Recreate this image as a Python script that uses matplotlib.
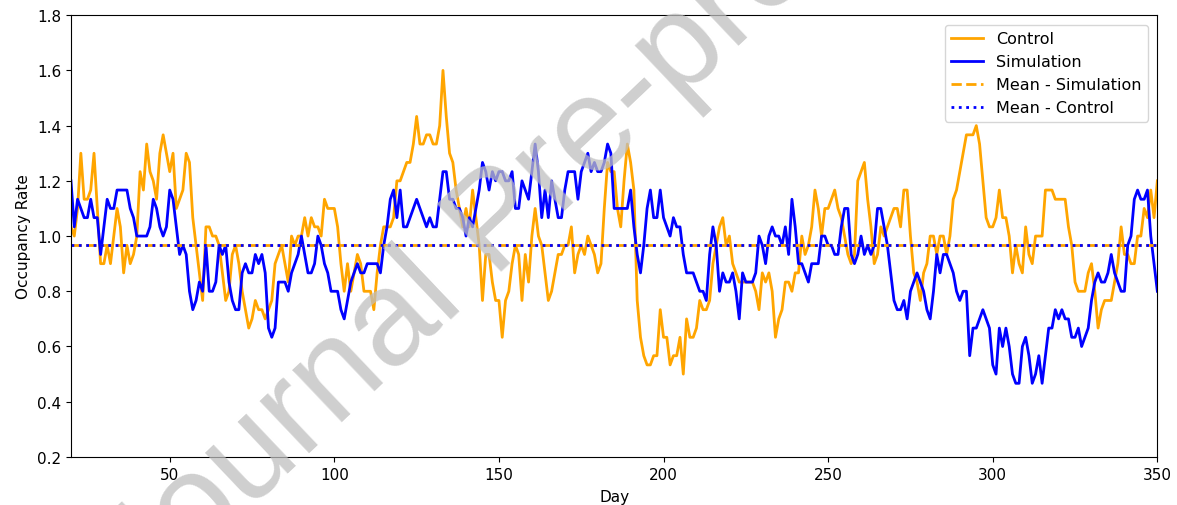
import numpy as np
import matplotlib
matplotlib.use("Agg")
from matplotlib import pyplot as plt

plt.rcParams["font.size"] = 11

# ward capacity: daily occupied beds / BEDS = occupancy rate
BEDS = 30
first_day, last_day = 20, 350

control_beds = [
    31, 30, 33, 39, 34, 34, 35, 39, 33, 27,   # 20
    27, 29, 27, 30, 33, 31, 26, 29, 27, 28,   # 30
    30, 37, 35, 40, 37, 36, 34, 39, 41, 39,   # 40
    37, 39, 33, 34, 35, 39, 38, 32, 29, 26,   # 50
    23, 31, 31, 30, 30, 29, 26, 23, 24, 28,   # 60
    29, 27, 24, 22, 20, 21, 23, 22, 22, 21,   # 70
    22, 23, 27, 28, 29, 27, 25, 30, 29, 30,   # 80
    30, 32, 30, 32, 31, 31, 30, 34, 33, 33,   # 90
    33, 31, 27, 24, 27, 24, 26, 28, 27, 24,   # 100
    24, 24, 22, 26, 29, 31, 31, 31, 32, 36,   # 110
    36, 37, 38, 38, 40, 43, 40, 40, 41, 41,   # 120
    40, 40, 42, 48, 43, 39, 38, 35, 33, 31,   # 130
    33, 31, 35, 32, 29, 23, 28, 28, 25, 23,   # 140
    23, 19, 23, 24, 27, 29, 28, 23, 28, 25,   # 150
    30, 33, 30, 29, 26, 23, 24, 26, 28, 28,   # 160
    29, 29, 31, 26, 28, 29, 28, 30, 29, 28,   # 170
    26, 27, 33, 38, 37, 37, 33, 31, 36, 40,   # 180
    38, 35, 23, 19, 17, 16, 16, 17, 17, 22,   # 190
    19, 19, 16, 17, 17, 19, 15, 21, 19, 19,   # 200
    20, 23, 22, 22, 23, 27, 29, 31, 32, 29,   # 210
    30, 27, 26, 25, 25, 25, 25, 25, 24, 22,   # 220
    26, 25, 26, 24, 19, 21, 22, 25, 25, 24,   # 230
    26, 26, 30, 28, 29, 31, 35, 33, 30, 33,   # 240
    33, 34, 35, 33, 32, 30, 28, 27, 28, 36,   # 250
    37, 38, 34, 31, 27, 28, 31, 30, 31, 32,   # 260
    33, 33, 31, 35, 35, 30, 26, 25, 23, 26,   # 270
    27, 30, 30, 28, 30, 30, 28, 30, 34, 35,   # 280
    37, 39, 41, 41, 41, 42, 40, 36, 32, 31,   # 290
    31, 32, 35, 32, 32, 30, 26, 29, 27, 26,   # 300
    31, 28, 27, 30, 30, 30, 35, 35, 35, 34,   # 310
    34, 34, 34, 31, 29, 25, 24, 24, 24, 26,   # 320
    27, 24, 20, 22, 23, 23, 23, 25, 27, 31,   # 330
    28, 28, 27, 27, 30, 30, 33, 32, 35, 32,   # 340
    36,                                       # 350
]

simulation_beds = [
    36, 31, 34, 33, 32, 32, 34, 32, 32, 28,   # 20
    31, 34, 33, 33, 35, 35, 35, 35, 33, 32,   # 30
    30, 30, 30, 30, 31, 34, 33, 31, 30, 31,   # 40
    35, 34, 31, 28, 29, 28, 24, 22, 23, 25,   # 50
    24, 29, 24, 24, 25, 29, 28, 29, 25, 23,   # 60
    22, 22, 26, 27, 26, 26, 28, 27, 28, 26,   # 70
    20, 19, 20, 25, 25, 25, 24, 26, 27, 28,   # 80
    30, 28, 26, 26, 27, 30, 29, 27, 26, 24,   # 90
    24, 24, 22, 21, 23, 25, 26, 27, 26, 26,   # 100
    27, 27, 27, 27, 26, 29, 31, 34, 35, 32,   # 110
    35, 31, 31, 32, 33, 34, 33, 32, 31, 32,   # 120
    31, 31, 34, 37, 37, 34, 34, 33, 33, 32,   # 130
    30, 32, 31, 33, 35, 38, 37, 35, 37, 36,   # 140
    37, 37, 36, 36, 37, 33, 33, 36, 35, 34,   # 150
    37, 40, 37, 32, 35, 32, 36, 34, 32, 32,   # 160
    35, 37, 37, 37, 34, 37, 38, 39, 37, 38,   # 170
    37, 37, 38, 40, 39, 33, 33, 33, 33, 33,   # 180
    35, 31, 28, 26, 29, 33, 35, 32, 32, 35,   # 190
    32, 31, 30, 32, 31, 31, 28, 26, 26, 26,   # 200
    25, 24, 24, 23, 28, 31, 29, 24, 26, 25,   # 210
    25, 26, 24, 21, 26, 25, 25, 25, 26, 30,   # 220
    29, 27, 30, 31, 30, 30, 29, 31, 28, 34,   # 230
    31, 27, 27, 26, 25, 27, 27, 27, 30, 30,   # 240
    29, 29, 28, 28, 31, 33, 33, 28, 27, 28,   # 250
    30, 28, 29, 28, 29, 33, 33, 31, 29, 26,   # 260
    23, 22, 22, 23, 21, 24, 25, 26, 25, 24,   # 270
    22, 21, 24, 28, 26, 28, 28, 27, 26, 24,   # 280
    23, 24, 24, 17, 20, 20, 21, 22, 21, 20,   # 290
    16, 15, 20, 18, 20, 18, 15, 14, 14, 18,   # 300
    19, 17, 14, 15, 17, 14, 17, 20, 20, 22,   # 310
    21, 22, 21, 21, 19, 19, 20, 18, 19, 20,   # 320
    23, 25, 26, 25, 25, 26, 28, 26, 25, 24,   # 330
    24, 29, 30, 34, 35, 34, 34, 35, 30, 27,   # 340
    24,                                       # 350
]

mean_simulation = 0.966
mean_control = 0.966

days = np.arange(first_day, last_day + 1)
control = np.array(control_beds) / BEDS
simulation = np.array(simulation_beds) / BEDS

fig = plt.figure(figsize=(11.77, 5.06), dpi=100)
ax = fig.add_axes([0.0603, 0.095, 0.923, 0.873])

ax.plot(days, control, color="orange", lw=2, label="Control")
ax.plot(days, simulation, color="blue", lw=2, label="Simulation")
ax.plot(days, np.full(len(days), mean_simulation), color="orange", lw=2,
        ls="--", label="Mean - Simulation")
ax.plot(days, np.full(len(days), mean_control), color="blue", lw=2,
        ls=":", label="Mean - Control")

ax.set_xlim(first_day, last_day)
ax.set_ylim(0.2, 1.8)
ax.set_xticks([50, 100, 150, 200, 250, 300, 350])
ax.set_yticks(np.arange(0.2, 1.81, 0.2))
ax.set_xlabel("Day", labelpad=5)
ax.set_ylabel("Occupancy Rate")
ax.legend(loc="upper right", fontsize=11.5, borderaxespad=0.6)

# diagonal watermark over the plot
fig.text(0.424, 0.556, "Journal Pre-proof", fontsize=97,
         family="Liberation Sans", color=(0.75, 0.75, 0.75), alpha=0.75,
         rotation=43.5, ha="center", va="center", zorder=10)

plt.savefig("out.png", dpi=100)
